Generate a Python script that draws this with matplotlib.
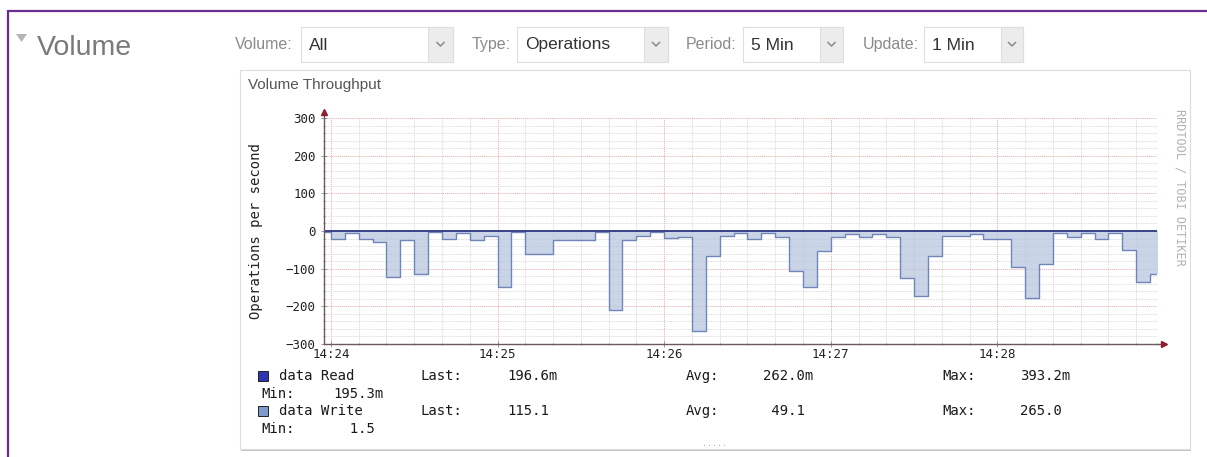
import matplotlib
matplotlib.use("Agg")
import matplotlib.pyplot as plt
from matplotlib.patches import Rectangle, Polygon
import numpy as np

# write rate per 5 s bucket, bucket start in seconds after 14:24:00
step_start = list(range(-5, 300, 5))
write_ops = [3, 20, 5, 20, 30, 122, 23, 115, 2, 20, 5, 25, 12, 150, 2, 60,
             60, 23, 23, 23, 1.5, 210, 23, 12, 2, 18, 15, 265, 67, 13, 5, 20,
             5, 15, 107, 150, 52, 15, 9, 15, 9, 15, 125, 173, 67, 12, 12, 9,
             20, 20, 95, 177, 88, 5, 15, 5, 20, 5, 50, 135, 115.1]

# read rate is tiny (milli-ops), consolidated per 30 s
read_start = [-30, 0, 30, 60, 90, 120, 150, 180, 210, 240, 270]
read_ops = [0.2611, 0.3932, 0.2204, 0.1953, 0.2987, 0.2415, 0.3318, 0.2120,
            0.2875, 0.2433, 0.1966]

time_ticks = [0, 60, 120, 180, 240]
time_labels = ["14:24", "14:25", "14:26", "14:27", "14:28"]
value_ticks = [-300, -200, -100, 0, 100, 200, 300]

legend_names = ["data Read", "data Write"]
legend_last = ["196.6m", "115.1"]
legend_avg = ["262.0m", " 49.1"]
legend_max = ["393.2m", "265.0"]
legend_min = ["195.3m", "  1.5"]

selector_labels = ["Volume:", "Type:", "Period:", "Update:"]
selector_values = ["All", "Operations", "5 Min", "1 Min"]

W, H = 1207, 457
fig = plt.figure(figsize=(W / 100, H / 100), dpi=100)
fig.patch.set_facecolor("white")

# page layer in pixel units
bg = fig.add_axes([0, 0, 1, 1])
bg.set_xlim(0, W)
bg.set_ylim(H, 0)
bg.axis("off")

ui_font = "Liberation Sans"
mono = "DejaVu Sans Mono"

# purple frame
bg.plot([8, W], [10.5, 10.5], color="#6b2c91", lw=1.6, solid_capstyle="butt")
bg.plot([8, 8], [10, H], color="#6b2c91", lw=1.6, solid_capstyle="butt")

# section header
bg.add_patch(Polygon([(16, 34), (27, 34), (21.5, 42)], closed=True,
                     fc="#b5b5b5", ec="none"))
bg.text(37, 55, "Volume", fontsize=20.5, color="#7a7a7a", family=ui_font,
        va="baseline")

# selectors: label x, box left, arrow left, box right
sel_pos = [(235, 301, 428, 453), (472, 517, 644, 668),
           (686, 743, 820, 843), (863, 924, 1001, 1023)]
for lab, val, (lx, x0, xa, x1) in zip(selector_labels, selector_values, sel_pos):
    bg.text(lx, 44.5, lab, fontsize=11.5, color="#8a8a8a", family=ui_font,
            va="center")
    bg.add_patch(Rectangle((x0, 27), x1 - x0, 35, fc="white", ec="#dedede",
                           lw=0.8))
    bg.add_patch(Rectangle((xa, 27), x1 - xa, 35, fc="#ececec", ec="#dedede",
                           lw=0.8))
    bg.text(x0 + 8, 45, val, fontsize=12.5, color="#333333", family=ui_font,
            va="center")
    cx = (xa + x1) / 2
    bg.plot([cx - 3.5, cx, cx + 3.5], [42.5, 46, 42.5], color="#8c8c8c", lw=1.1)

# chart panel with a soft shadow
bg.add_patch(Rectangle((241, 71), 950, 380, fc="#c4c4c4", ec="none"))
bg.add_patch(Rectangle((240, 70), 950, 379, fc="white", ec="#dcdcdc", lw=0.8))
bg.text(248, 85, "Volume Throughput", fontsize=11, color="#555555",
        family=ui_font, va="center")

# rrd plot area
ax = fig.add_axes([324 / W, 1 - 344 / H, 833 / W, 226 / H])
ax.set_xlim(-2.5, 297.5)
ax.set_ylim(-300, 300)
ax.set_facecolor("white")

ax.set_yticks(value_ticks)
ax.set_yticks(np.arange(-300, 301, 20), minor=True)
ax.set_xticks(time_ticks, time_labels)
ax.set_xticks(np.arange(0, 300, 10), minor=True)
ax.grid(which="minor", color="#d2d2d2", linestyle=(0, (1, 1)), lw=0.6)
ax.grid(which="major", color="#eea9a9", linestyle=(0, (1, 1)), lw=0.7)
ax.set_axisbelow(True)

edges = step_start + [300]
w = -np.array(write_ops + [write_ops[-1]])
ax.fill_between(edges, 0, w, step="post", color="#b7c6df", alpha=0.75, lw=0)
ax.step(edges, w, where="post", color="#7086b8", lw=1.0)

r_edges = read_start + [300]
ax.step(r_edges, read_ops + [read_ops[-1]], where="post", color="#3b4288",
        lw=1.4)

for s in ("top", "right"):
    ax.spines[s].set_visible(False)
for s in ("left", "bottom"):
    ax.spines[s].set_color("#6a5a5a")
    ax.spines[s].set_linewidth(1.0)

ax.tick_params(which="both", direction="inout", color="#8a8a8a", width=0.6)
ax.tick_params(which="major", length=4)
ax.tick_params(which="minor", length=2)
ax.tick_params(axis="y", which="major", pad=4, labelsize=9, labelcolor="#222222")
ax.tick_params(axis="x", which="major", pad=1, labelsize=9, labelcolor="#222222")
for t in ax.get_xticklabels() + ax.get_yticklabels():
    t.set_family(mono)

# axis arrows
ax.plot([0, 0], [1, 1 + 6 / 226], transform=ax.transAxes, color="#6a5a5a",
        lw=1.0, clip_on=False)
ax.plot([0], [1 + 6 / 226], transform=ax.transAxes, marker="^", ms=5,
        color="#8b1f2f", clip_on=False)
ax.plot([1, 1 + 7 / 833], [0, 0], transform=ax.transAxes, color="#6a5a5a",
        lw=1.0, clip_on=False)
ax.plot([1 + 7 / 833], [0], transform=ax.transAxes, marker=">", ms=5,
        color="#8b1f2f", clip_on=False)

bg.text(256, 231, "Operations per second", fontsize=10, family=mono,
        color="#222222", rotation=90, va="center", ha="center")
bg.text(1180, 187, "RRDTOOL / TOBI OETIKER", fontsize=8.5, family=mono,
        color="#b3b3b3", rotation=-90, va="center", ha="center")

# legend block
swatches = ["#2c35b3", "#7e9bcc"]
row_y = [376, 411]
for i in range(2):
    y = row_y[i]
    bg.add_patch(Rectangle((258, y - 5), 10, 10, fc=swatches[i], ec="#222222",
                           lw=0.7))
    bg.text(279, y, legend_names[i], fontsize=10, family=mono, color="#1a1a1a",
            va="center")
    bg.text(420, y, "Last:", fontsize=10, family=mono, color="#1a1a1a",
            va="center")
    bg.text(507, y, legend_last[i], fontsize=10, family=mono, color="#1a1a1a",
            va="center")
    bg.text(686, y, "Avg:", fontsize=10, family=mono, color="#1a1a1a",
            va="center")
    bg.text(763, y, legend_avg[i], fontsize=10, family=mono, color="#1a1a1a",
            va="center")
    bg.text(942, y, "Max:", fontsize=10, family=mono, color="#1a1a1a",
            va="center")
    bg.text(1020, y, legend_max[i], fontsize=10, family=mono, color="#1a1a1a",
            va="center")
    bg.text(261, y + 18, "Min:", fontsize=10, family=mono, color="#1a1a1a",
            va="center")
    bg.text(333, y + 18, legend_min[i], fontsize=10, family=mono,
            color="#1a1a1a", va="center")

bg.text(715, 443, ".....", fontsize=6, family=mono, color="#b0b0b0",
        ha="center", va="center")

fig.savefig("out.png", dpi=100)
